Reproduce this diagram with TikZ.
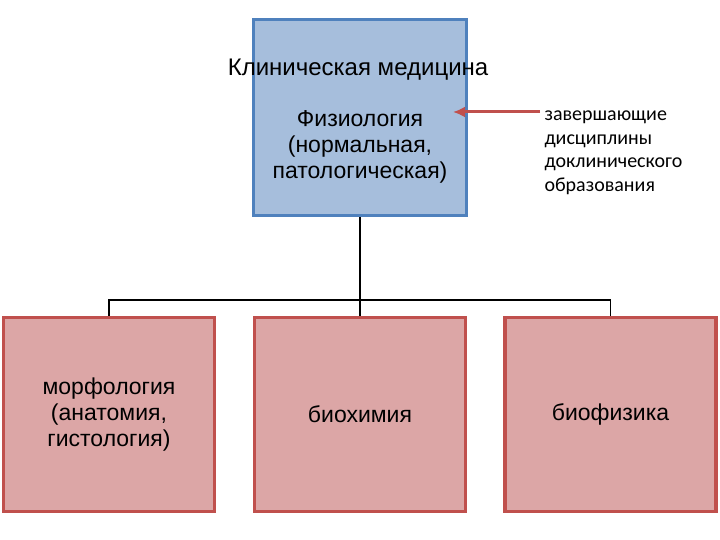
\documentclass[tikz,border=0pt]{standalone}
\usepackage{fontspec}
\usetikzlibrary{arrows.meta}
\setmainfont{Liberation Sans}
\newfontfamily\notefont{Carlito}
\definecolor{bb}{RGB}{79,129,189}
\definecolor{bfill}{RGB}{166,190,220}
\definecolor{rb}{RGB}{192,80,77}
\definecolor{rfill}{RGB}{220,166,166}
\begin{document}
\begin{tikzpicture}[x=1pt,y=-1pt,
  bluebox/.style={draw=bb, fill=bfill, line width=3.5pt, minimum width=213pt, minimum height=196pt, inner sep=0pt},
  redbox/.style={draw=rb, fill=rfill, line width=3.5pt, minimum width=211pt, minimum height=194pt, inner sep=0pt, align=center, font=\fontsize{23}{26}\selectfont},
  conn/.style={line width=1.5pt, black}]
\useasboundingbox (0,0) rectangle (720,540);
\node[bluebox] (top) at (360,117.5) {};
\node[font=\fontsize{24}{27}\selectfont] (title) at (358,70) {Клиническая медицина};
\node[align=center, font=\fontsize{23}{26}\selectfont] (phys) at (360,147) {Физиология\\(нормальная,\\патологическая)};
\node[anchor=west, align=left, font=\notefont\fontsize{20}{23.5}\selectfont] (note) at (541,153) {завершающие\\дисциплины\\доклинического\\образования};
\coordinate (as) at (540,112);
\coordinate (ae) at (453,112);
\draw[rb, line width=3pt, -{Latex[length=12pt,width=11pt]}] (as) -- (ae);
\node[redbox] (l) at (109,414.5) {морфология\\(анатомия,\\гистология)};
\node[redbox] (m) at (360,414.5) {биохимия};
\node[redbox] (r) at (610.5,414.5) {биофизика};
\coordinate (j) at (360,300);
\draw[conn] (top.south) -- (j);
\draw[conn] (l.north) |- (j) -| (r.north);
\draw[conn] (j) -- (m.north);
\end{tikzpicture}
\end{document}
